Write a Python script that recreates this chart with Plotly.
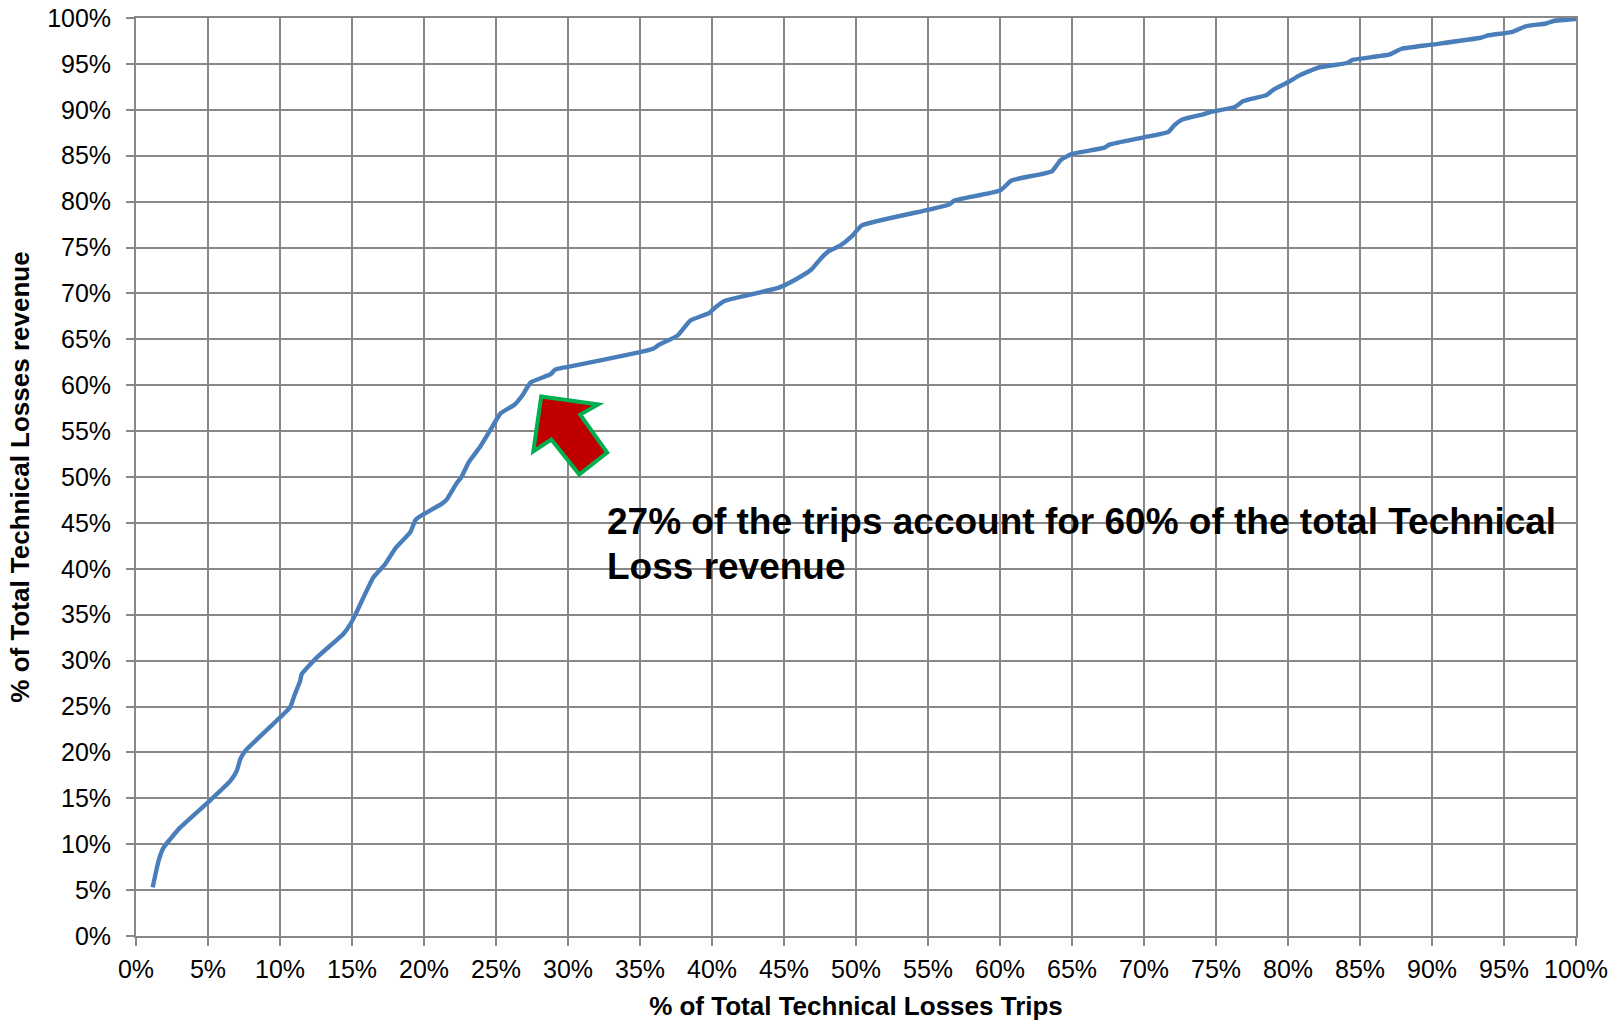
import plotly.graph_objects as go

# % of Total Technical Losses Trips (x) vs % of Total Technical Losses revenue (y)
trips_pct = [1.16, 1.57, 1.92, 2.38, 3.08, 5.0, 6.55, 7.0, 7.25, 7.6, 10.0, 10.7, 11.0, 11.4, 11.5,
             12.6, 14.4, 14.9, 15.2, 16.5, 17.3, 18.0, 19.05, 19.4, 19.7, 21.25, 21.6, 22.3, 22.6,
             23.1, 23.9, 24.6, 25.3, 26.3, 26.9, 27.4, 28.8, 29.1, 30.0, 35.0, 35.95, 36.3, 37.6,
             38.5, 39.8, 40.1, 40.9, 44.6, 45.9, 46.9, 47.5, 48.1, 48.9, 49.7, 50.4, 55.0, 56.5,
             56.8, 60.0, 60.8, 63.6, 64.2, 65.0, 67.2, 67.6, 70.0, 71.7, 72.1, 72.6, 74.1, 74.6,
             76.3, 76.9, 78.5, 79.0, 80.0, 80.8, 82.1, 84.1, 84.5, 87.0, 87.9, 90.0, 93.4, 93.9,
             95.6, 96.5, 97.9, 98.5, 100.0]
revenue_pct = [5.3, 8.2, 9.65, 10.56, 11.83, 14.56, 16.9, 18.0, 19.3, 20.2, 23.8, 24.9, 26.2, 27.8, 28.5,
               30.4, 32.9, 34.0, 34.9, 39.1, 40.5, 42.2, 44.0, 45.3, 45.7, 47.1, 47.6, 49.4, 50.0,
               51.6, 53.3, 55.1, 56.9, 57.9, 59.05, 60.3, 61.2, 61.7, 62.0, 63.6, 64.0, 64.4, 65.4,
               67.05, 67.85, 68.3, 69.2, 70.6, 71.6, 72.6, 73.7, 74.6, 75.2, 76.2, 77.4, 79.1, 79.7,
               80.1, 81.2, 82.3, 83.3, 84.5, 85.2, 85.85, 86.2, 87.0, 87.6, 88.3, 88.9, 89.5, 89.75,
               90.3, 90.95, 91.6, 92.2, 93.0, 93.75, 94.6, 95.1, 95.45, 96.0, 96.65, 97.1, 97.85, 98.1,
               98.5, 99.1, 99.4, 99.7, 99.9]

tick_vals = list(range(0, 101, 5))
tick_text = [f"{v}%" for v in tick_vals]

x_title = "% of Total Technical Losses Trips"
y_title = "% of Total Technical Losses revenue"
note_lines = ["27% of the trips account for 60% of the total Technical", "Loss revenue"]

# block-arrow outline (axis units), pointing up-left toward the 27% / 60% point
arrow_x = [28.14, 32.10, 30.85, 32.72, 30.78, 28.84, 27.59]
arrow_y = [58.77, 57.9, 56.8, 52.67, 50.27, 54.08, 52.78]

GRID = "#888888"
FONT = "Liberation Sans, Arial, sans-serif"

fig = go.Figure()
fig.add_trace(go.Scatter(
    x=trips_pct, y=revenue_pct, mode="lines",
    line=dict(color="#4a7ebb", width=4.4, shape="spline", smoothing=0.4),
    showlegend=False, hoverinfo="skip",
))

path = "M " + " L ".join(f"{x},{y}" for x, y in zip(arrow_x, arrow_y)) + " Z"
fig.add_shape(type="path", path=path, xref="x", yref="y",
              fillcolor="#c00000", line=dict(color="#00b050", width=4), layer="above")

for line_txt, yv in zip(note_lines, [45.2, 40.3]):
    fig.add_annotation(x=32.6, y=yv, xref="x", yref="y", text=f"<b>{line_txt}</b>",
                       showarrow=False, xanchor="left", yanchor="middle",
                       font=dict(family=FONT, size=37, color="#000000"))

axis_common = dict(
    range=[0, 100], tickvals=tick_vals, ticktext=tick_text,
    showgrid=True, gridcolor=GRID, gridwidth=1.8,
    showline=True, linecolor=GRID, linewidth=1.8, mirror=True,
    ticks="outside", ticklen=8, tickcolor=GRID, tickwidth=1.8,
    zeroline=False, tickfont=dict(family=FONT, size=25, color="#000000"),
)

fig.update_xaxes(**axis_common, ticklabelstandoff=2,
                 title=dict(text=f"<b>{x_title}</b>", font=dict(family=FONT, size=26, color="#000000"), standoff=15))
fig.update_yaxes(**axis_common, ticklabelstandoff=10,
                 title=dict(text=f"<b>{y_title}</b>", font=dict(family=FONT, size=26, color="#000000"), standoff=10))

fig.update_layout(
    width=1624, height=1024,
    margin=dict(l=136, r=48, t=18, b=88, autoexpand=False),
    paper_bgcolor="white", plot_bgcolor="white",
    font=dict(family=FONT),
)

fig.write_html("out.html", config={"displayModeBar": False},
               post_script="document.body.style.margin='0';")
